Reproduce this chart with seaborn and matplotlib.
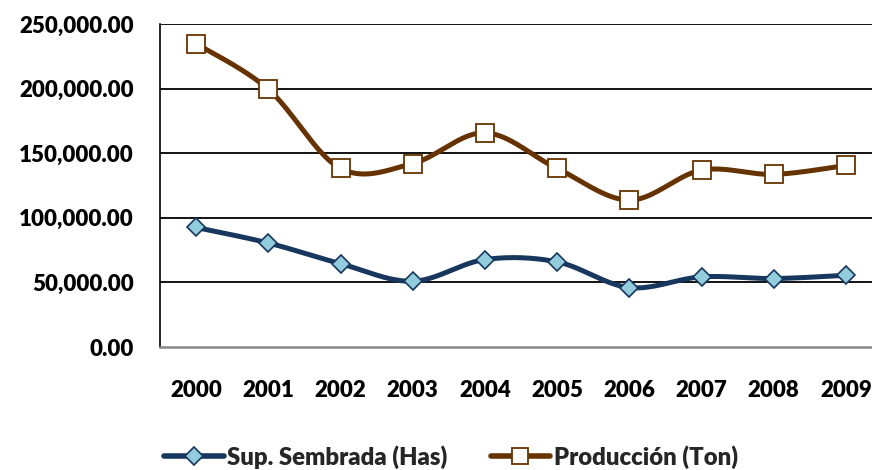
import numpy as np
import pandas as pd
import matplotlib
matplotlib.use("Agg")
import matplotlib.pyplot as plt
from matplotlib.lines import Line2D
from matplotlib.ticker import FuncFormatter
import seaborn as sns

years = ["2000", "2001", "2002", "2003", "2004", "2005", "2006", "2007", "2008", "2009"]
sup_sembrada = [92500, 80500, 64500, 50900, 67700, 65900, 46000, 54300, 53000, 55500]
produccion = [234800, 199500, 138200, 142000, 165800, 138200, 113700, 136900, 133600, 140500]
series_names = ["Sup. Sembrada (Has)", "Producción (Ton)"]
y_ticks = [0, 50000, 100000, 150000, 200000, 250000]

sns.set_theme(style="white")
plt.rcParams["font.family"] = ["Lato", "DejaVu Sans"]
WEIGHT = "heavy"
plt.rcParams["font.weight"] = WEIGHT

BLUE = "#17375E"
BLUE_FILL = "#93CDDD"
BROWN = "#663300"


def smooth(yv, n=40):
    """Catmull-Rom style Bezier smoothing (as in Excel smoothed lines)."""
    x = np.arange(len(yv), dtype=float)
    y = np.asarray(yv, dtype=float)
    px = np.concatenate([[x[0]], x, [x[-1]]])
    py = np.concatenate([[y[0]], y, [y[-1]]])
    xs, ys = [], []
    t = np.linspace(0, 1, n)
    for i in range(len(x) - 1):
        p0 = np.array([px[i + 1], py[i + 1]])
        p3 = np.array([px[i + 2], py[i + 2]])
        c1 = p0 + (np.array([px[i + 2], py[i + 2]]) - np.array([px[i], py[i]])) / 6
        c2 = p3 - (np.array([px[i + 3], py[i + 3]]) - np.array([px[i + 1], py[i + 1]])) / 6
        b = ((1 - t) ** 3)[:, None] * p0 + (3 * (1 - t) ** 2 * t)[:, None] * c1 + \
            (3 * (1 - t) * t ** 2)[:, None] * c2 + (t ** 3)[:, None] * p3
        xs.extend(b[:, 0])
        ys.extend(b[:, 1])
    return np.array(xs), np.array(ys)


fig = plt.figure(figsize=(8.72, 4.70), dpi=100)
ax = fig.add_axes([160 / 872, 123 / 470, 722 / 872, 323 / 470])

xi = np.arange(len(years))
sx, sy = smooth(sup_sembrada)
px_, py_ = smooth(produccion)

df_s = pd.DataFrame({"x": sx, "y": sy})
df_p = pd.DataFrame({"x": px_, "y": py_})

sns.lineplot(data=df_s, x="x", y="y", sort=False, ax=ax, color=BLUE, linewidth=3.6,
             solid_capstyle="round", zorder=3)
sns.lineplot(data=df_p, x="x", y="y", sort=False, ax=ax, color=BROWN, linewidth=3.6,
             solid_capstyle="round", zorder=3)

ax.plot(xi, sup_sembrada, linestyle="none", marker="D", markersize=9.3,
        markerfacecolor=BLUE_FILL, markeredgecolor=BLUE, markeredgewidth=1.2, zorder=4)
ax.plot(xi, produccion, linestyle="none", marker="s", markersize=13,
        markerfacecolor="white", markeredgecolor=BROWN, markeredgewidth=1.3, zorder=4)

ax.set_xlim(-0.5, len(years) - 0.5)
ax.set_ylim(0, 250000)
ax.set_xticks(xi)
ax.set_xticklabels(years)
ax.set_yticks(y_ticks)
ax.yaxis.set_major_formatter(FuncFormatter(lambda v, p: f"{v:,.2f}"))
ax.set_xlabel("")
ax.set_ylabel("")

for v in y_ticks[1:]:
    ax.axhline(v, color="black", linewidth=1.3, zorder=1)

for s in ["top", "right"]:
    ax.spines[s].set_visible(False)
ax.spines["left"].set_color("#000000")
ax.spines["left"].set_linewidth(1.2)
ax.spines["bottom"].set_color("#888888")
ax.spines["bottom"].set_linewidth(1.8)

ax.tick_params(axis="both", length=0)
ax.tick_params(axis="x", pad=24, labelsize=16)
ax.tick_params(axis="y", pad=19, labelsize=16)
for lab in ax.get_xticklabels() + ax.get_yticklabels():
    lab.set_fontweight(WEIGHT)
    lab.set_color("black")

handles = [
    Line2D([], [], color=BLUE, linewidth=4, marker="D", markersize=9.3,
           markerfacecolor=BLUE_FILL, markeredgecolor=BLUE, markeredgewidth=1.2),
    Line2D([], [], color=BROWN, linewidth=4, marker="s", markersize=11,
           markerfacecolor="white", markeredgecolor=BROWN, markeredgewidth=1.3),
]
leg = fig.legend(handles, series_names, loc="center", bbox_to_anchor=(451 / 872, 1 - 457 / 470),
                 ncol=2, frameon=False, prop={"weight": WEIGHT, "size": 17.2},
                 handlelength=2.5, handletextpad=0.15, columnspacing=1.8, borderaxespad=0)

fig.savefig("out.png", dpi=100)
